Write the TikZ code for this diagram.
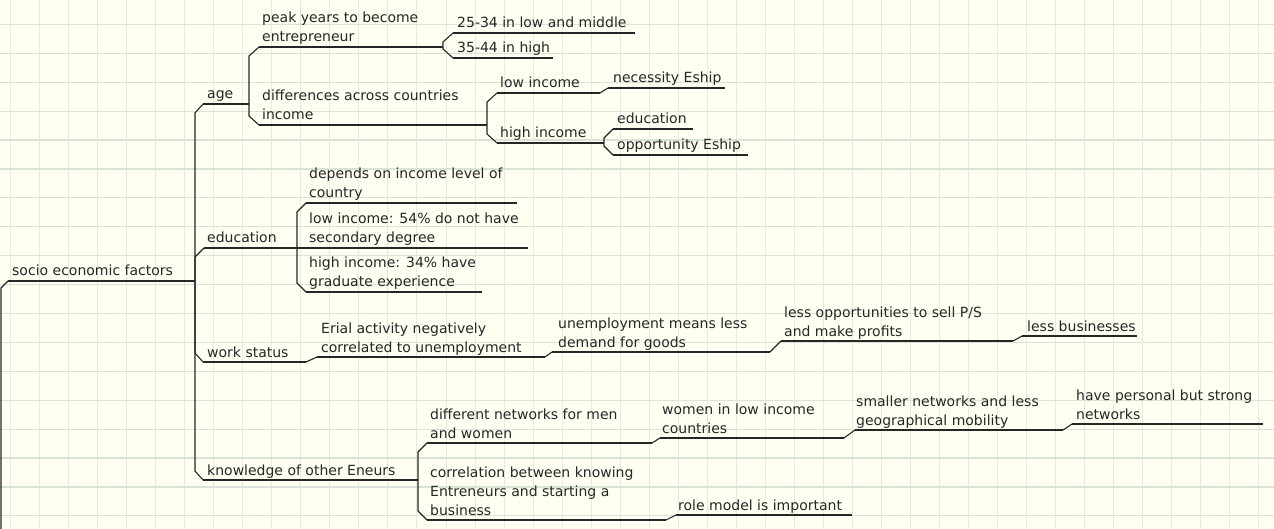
\documentclass[tikz,border=0pt]{standalone}
\usepackage{fontspec}
\setmainfont{DejaVu Sans}
\usetikzlibrary{calc}
\definecolor{bg}{HTML}{FFFFF2}
\definecolor{gridh}{HTML}{D9E3D6}
\definecolor{gridv}{HTML}{E6EBDF}
\definecolor{ink}{HTML}{262626}
\newcommand\ml[1]{\begin{tabular}[b]{@{}l@{}}#1\end{tabular}}
\tikzset{
  lbl/.style={anchor=base west, inner sep=0pt, text=ink, font=\fontsize{14}{19}\selectfont},
  ul/.style={draw=ink, line width=1.1pt},
  cn/.style={draw=ink, line width=1.1pt, line join=miter},
  gh/.style={draw=gridh, line width=1.2pt},
  gv/.style={draw=gridv, line width=0.9pt}
}
% name, x start, x end, underline y, text x, text
\newcommand\topic[6]{%
  \coordinate (#1-a) at (#2,#4);
  \coordinate (#1-b) at (#3,#4);
  \node[lbl] (#1) at (#5,#4-5) {#6};
  \draw[ul] (#1-a) -- (#1-b);}
\newcommand\linkup[2]{\draw[cn] (#1-b) -- ($(#1-b |- #2-a)+(0,9)$) -- (#2-a);}
\newcommand\linkdn[2]{\draw[cn] (#1-b) -- ($(#1-b |- #2-a)+(0,-9)$) -- (#2-a);}
\newcommand\linkst[2]{\draw[cn] (#1-b) -- (#2-a);}
\begin{document}
\begin{tikzpicture}[x=1pt,y=-1pt]
\useasboundingbox (0,0) rectangle (1274,529);
\fill[bg] (0,0) rectangle (1274,529);
\foreach \k in {0,...,43} {\draw[gv] (10.5+29.03*\k,0) -- (10.5+29.03*\k,529);}
\foreach \k in {0,...,17} {\draw[gh] (0,24.5+28.9*\k) -- (1274,24.5+28.9*\k);}

% root
\topic{R}{8}{195}{281}{12}{socio economic factors}
\coordinate (offpage) at (1,529);
\draw[cn] (R-a) -- ++(-7,7) -- (offpage);

% age
\topic{A}{203}{249}{104}{207}{age}
\topic{A1}{259}{443}{47}{262}{\ml{peak years to become\\entrepreneur}}
\topic{A11}{453}{635}{33}{457}{25-34 in low and middle}
\topic{A12}{453}{553}{58}{457}{35-44 in high}
\topic{A2}{259}{487}{125}{262}{\ml{differences across countries\\income}}
\topic{A21}{497}{600}{93}{500}{low income}
\topic{A211}{608}{725}{88}{613}{necessity Eship}
\topic{A22}{497}{604}{143}{500}{high income}
\topic{A221}{613}{693}{129}{617}{education}
\topic{A222}{613}{748}{155}{617}{opportunity Eship}

% education
\topic{E}{204}{297}{248}{207}{education}
\topic{E1}{306}{517}{203}{309}{\ml{depends on income level of\\country}}
\topic{E2}{297}{528}{248}{309}{\ml{low income: 54\% do not have\\secondary degree}}
\topic{E3}{306}{482}{292}{309}{\ml{high income: 34\% have\\graduate experience}}

% work status
\topic{W}{203}{306}{362}{207}{work status}
\topic{W1}{317}{545}{357}{321}{\ml{Erial activity negatively\\correlated to unemployment}}
\topic{W11}{552}{770}{352}{558}{\ml{unemployment means less\\demand for goods}}
\topic{W111}{781}{1013}{341}{784}{\ml{less opportunities to sell P/S\\and make profits}}
\topic{W1111}{1022}{1137}{336}{1027}{less businesses}

% knowledge
\topic{K}{203}{418}{480}{207}{knowledge of other Eneurs}
\topic{K1}{427}{652}{443}{430}{\ml{different networks for men\\and women}}
\topic{K11}{660}{844}{438}{662}{\ml{women in low income\\countries}}
\topic{K111}{855}{1063}{430}{856}{\ml{smaller networks and less\\geographical mobility}}
\topic{K1111}{1072}{1263}{424}{1076}{\ml{have personal but strong\\networks}}
\topic{K2}{427}{666}{520}{430}{\ml{correlation between knowing\\Entreneurs and starting a\\business}}
\topic{K21}{676}{852}{515}{678}{role model is important}

% connectors
\linkup{R}{A}
\linkup{R}{E}
\linkdn{R}{W}
\linkdn{R}{K}
\linkup{A}{A1}
\linkdn{A}{A2}
\linkup{A1}{A11}
\linkdn{A1}{A12}
\linkup{A2}{A21}
\linkdn{A2}{A22}
\linkst{A21}{A211}
\linkup{A22}{A221}
\linkdn{A22}{A222}
\linkup{E}{E1}
\linkst{E}{E2}
\linkdn{E}{E3}
\linkst{W}{W1}
\linkst{W1}{W11}
\linkst{W11}{W111}
\linkst{W111}{W1111}
\linkup{K}{K1}
\linkdn{K}{K2}
\linkst{K1}{K11}
\linkst{K11}{K111}
\linkst{K111}{K1111}
\linkst{K2}{K21}
\end{tikzpicture}
\end{document}
